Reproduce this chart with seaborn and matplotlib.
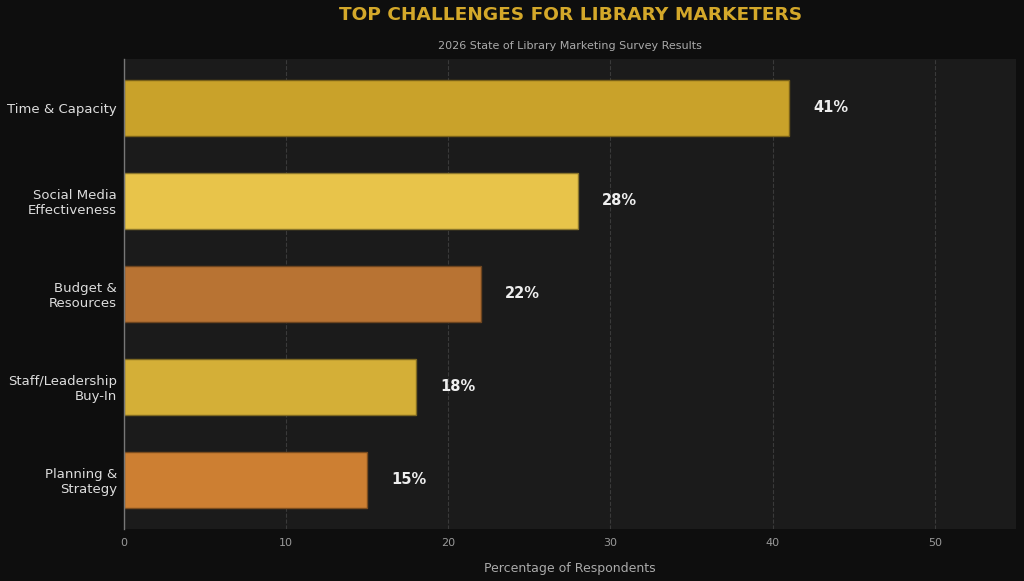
import pandas as pd
import seaborn as sns
import matplotlib.pyplot as plt
import matplotlib.colors as mcolors

# Data
challenges = [
    "Time & Capacity",
    "Social Media\nEffectiveness",
    "Budget &\nResources",
    "Staff/Leadership\nBuy-In",
    "Planning &\nStrategy",
]
percentages = [41, 28, 22, 18, 15]
bar_colors = ["#C9A22A", "#E8C44A", "#B87333", "#D4AF37", "#CD7F32"]

df = pd.DataFrame({"challenge": challenges, "pct": percentages})

sns.set_theme(style="dark")
plt.rcParams["font.family"] = ["DejaVu Sans"]

fig, ax = plt.subplots(figsize=(10.24, 5.81), dpi=100)
fig.patch.set_facecolor("#0e0e0e")
ax.set_facecolor("#1b1b1b")

sns.barplot(
    data=df,
    x="pct",
    y="challenge",
    hue="challenge",
    palette=bar_colors,
    saturation=1,
    orient="h",
    width=0.6,
    linewidth=1,
    legend=False,
    ax=ax,
)

# darker edge of each bar's own colour
for patch in ax.patches:
    r, g, b, _ = patch.get_facecolor()
    patch.set_edgecolor((r * 0.6, g * 0.6, b * 0.6, 1))

# Value labels
for i, v in enumerate(percentages):
    ax.text(v + 1.5, i, f"{v}%", va="center", ha="left",
            color="#eeeeee", fontsize=10.5, fontweight="bold")

ax.set_xlim(0, 55)
ax.set_ylim(len(challenges) - 1 + 0.53, -0.53)
ax.set_xticks([0, 10, 20, 30, 40, 50])
ax.grid(axis="x", color="#3a3a3a", linestyle="--", linewidth=0.8)
ax.grid(axis="y", visible=False)
ax.set_axisbelow(True)

for side in ["top", "right", "bottom"]:
    ax.spines[side].set_visible(False)
ax.spines["left"].set_color("#777777")
ax.spines["left"].set_linewidth(1)

ax.tick_params(axis="x", colors="#999999", labelsize=8, length=3, pad=3, color="#444444")
ax.tick_params(axis="y", colors="#dddddd", labelsize=9.5, length=0, pad=5)

ax.set_ylabel("")
ax.set_xlabel("Percentage of Respondents", color="#aaaaaa", fontsize=9, labelpad=10)

fig.suptitle("TOP CHALLENGES FOR LIBRARY MARKETERS", color="#D4A82A",
             fontsize=13.3, fontweight="bold", x=0.557, y=0.99)
ax.set_title("2026 State of Library Marketing Survey Results",
             color="#aaaaaa", fontsize=8, pad=7)

plt.subplots_adjust(left=0.121, right=0.992, top=0.899, bottom=0.089)
plt.savefig("out.png", dpi=100, facecolor=fig.get_facecolor())
